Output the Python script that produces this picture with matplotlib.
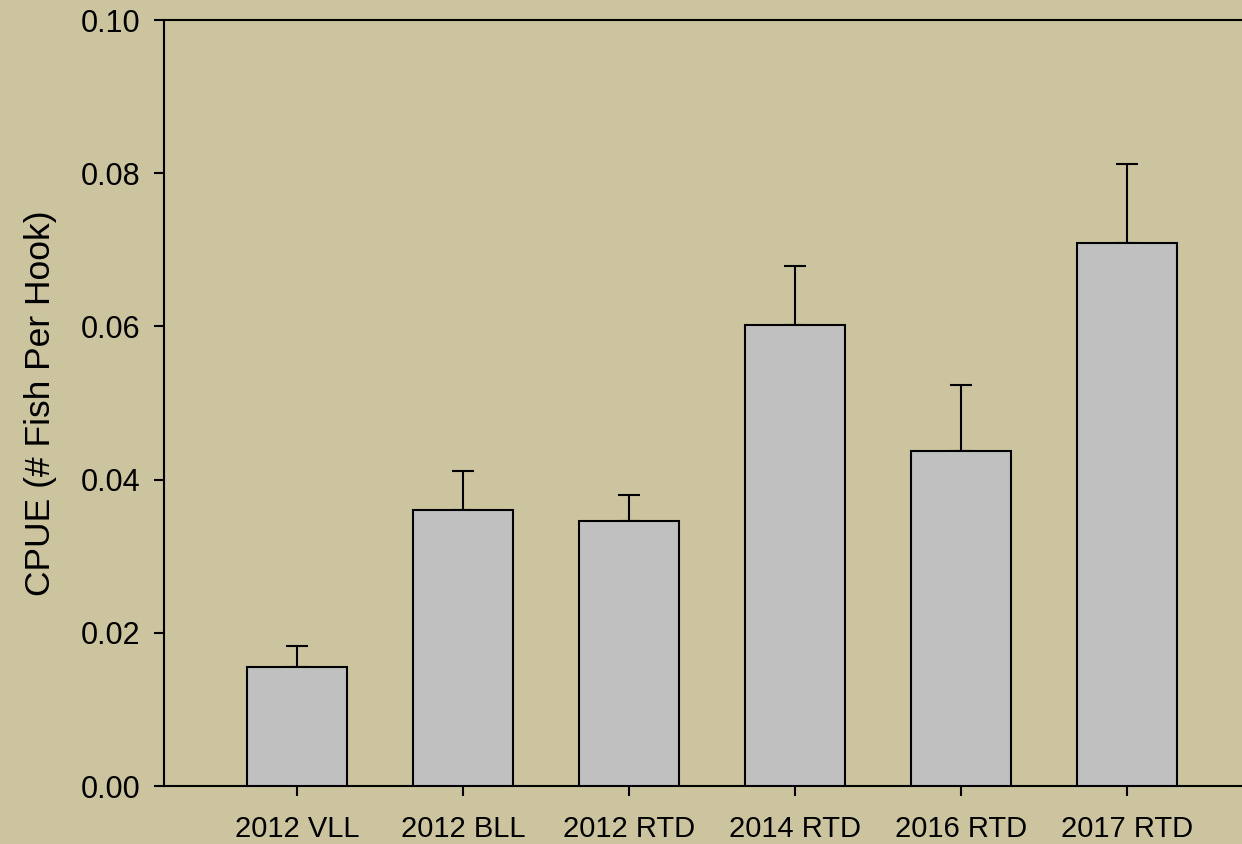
import numpy as np
import matplotlib
matplotlib.use("Agg")
import matplotlib.pyplot as plt

# CPUE per gear / survey year
groups = ["2012 VLL", "2012 BLL", "2012 RTD", "2014 RTD", "2016 RTD", "2017 RTD"]
cpue = [0.0155, 0.0360, 0.0346, 0.0602, 0.0437, 0.0709]
se = [0.0028, 0.0051, 0.0034, 0.0077, 0.0086, 0.0103]

plt.rcParams['font.family'] = ['Liberation Sans', 'DejaVu Sans']

bg = '#CBC49F'
fig = plt.figure(figsize=(12.42, 8.44), dpi=100, facecolor=bg)
# right edge of the axes runs past the figure edge
ax = fig.add_axes([0.132, 0.0687, 0.8825, 0.9076])
ax.set_facecolor('none')

x = np.arange(len(groups))
ax.bar(x, cpue, width=0.6, color='#C0C0C0', edgecolor='black', linewidth=1.5, zorder=3)
ax.errorbar(x, cpue, yerr=[np.zeros(len(se)), se], fmt='none', ecolor='black',
            elinewidth=1.5, capsize=8, capthick=1.5, zorder=2)

ax.set_xlim(-0.8, 5.8)
ax.set_ylim(0, 0.10)
ax.set_yticks([0.0, 0.02, 0.04, 0.06, 0.08, 0.10])
ax.set_yticklabels(["0.00", "0.02", "0.04", "0.06", "0.08", "0.10"])
ax.set_xticks(x)
ax.set_xticklabels(groups)

ax.tick_params(axis='both', width=1.5, length=7, direction='out')
ax.tick_params(axis='y', labelsize=22, pad=10)
ax.tick_params(axis='x', labelsize=21, pad=14)
for s in ax.spines.values():
    s.set_linewidth(1.5)

ax.set_ylabel("CPUE (# Fish Per Hook)", fontsize=25.5, labelpad=17)

fig.savefig("out.png", dpi=100, facecolor=bg)
